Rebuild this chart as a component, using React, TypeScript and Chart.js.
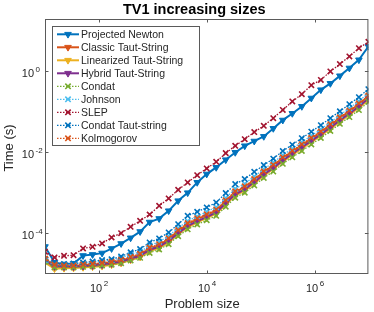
import React, { useEffect, useRef } from 'react';
import { Chart, registerables } from 'chart.js';

Chart.register(...registerables);

// Problem sizes (x)
const problemSizes = [
  10, 15, 22.5, 33.75, 50.63, 75.94, 113.9, 170.9, 256.3, 384.4, 576.6, 865.0,
  1297.5, 1946.2, 2919.3, 4378.9, 6568.4, 9852.6, 14778.9, 22168.4, 33252.6,
  49878.9, 74818.4, 112227.6, 168341.3, 252512.0, 378768.0, 568151.9, 852227.9,
  1278341.9, 1917512.8, 2876269.2, 4314403.8, 6471605.7, 9707408.6,
];

// Times (s)
const projectedNewton = [
  4.7e-5, 1.93e-5, 1.75e-5, 1.82e-5, 2.83e-5, 3.0e-5, 3.26e-5, 4.21e-5, 5.58e-5, 7.7e-5,
  1.1e-4, 1.88e-4, 2.3e-4, 3.57e-4, 6.29e-4, 9.9e-4, 1.78e-3, 2.85e-3, 4.16e-3, 6.4e-3,
  9.72e-3, 1.41e-2, 1.84e-2, 2.4e-2, 3.78e-2, 6.04e-2, 8.83e-2, 0.131, 0.21, 0.336,
  0.482, 0.741, 1.15, 1.83, 3.91,
];
const classicTautString = [
  2.32e-5, 1.61e-5, 1.56e-5, 1.56e-5, 1.66e-5, 1.7e-5, 1.8e-5, 1.91e-5, 2.13e-5, 2.53e-5,
  3.0e-5, 4.21e-5, 5.13e-5, 7.2e-5, 1.13e-4, 1.68e-4, 2.23e-4, 2.8e-4, 3.66e-4, 6.18e-4,
  1.03e-3, 1.36e-3, 2.06e-3, 3.19e-3, 4.61e-3, 7.04e-3, 1.02e-2, 1.47e-2, 2.12e-2, 3.06e-2,
  4.55e-2, 6.77e-2, 0.1, 0.149, 0.235,
];
const linearizedTautString = [
  1.9e-5, 1.35e-5, 1.38e-5, 1.4e-5, 1.45e-5, 1.5e-5, 1.55e-5, 1.68e-5, 1.85e-5, 2.2e-5,
  2.6e-5, 3.6e-5, 4.4e-5, 6.0e-5, 9.5e-5, 1.4e-4, 1.85e-4, 2.35e-4, 3.05e-4, 5.1e-4,
  8.5e-4, 1.12e-3, 1.7e-3, 2.6e-3, 3.8e-3, 5.8e-3, 8.4e-3, 1.2e-2, 1.75e-2, 2.5e-2,
  3.7e-2, 5.5e-2, 8.2e-2, 0.122, 0.19,
];
const hybridTautString = [
  2.1e-5, 1.52e-5, 1.5e-5, 1.5e-5, 1.55e-5, 1.6e-5, 1.68e-5, 1.8e-5, 2.0e-5, 2.35e-5,
  2.8e-5, 3.9e-5, 4.7e-5, 6.5e-5, 1.0e-4, 1.5e-4, 2.0e-4, 2.5e-4, 3.25e-4, 5.5e-4,
  9.1e-4, 1.2e-3, 1.82e-3, 2.8e-3, 4.05e-3, 6.2e-3, 9.0e-3, 1.3e-2, 1.87e-2, 2.7e-2,
  4.0e-2, 5.95e-2, 8.8e-2, 0.131, 0.205,
];
const condat = [
  2.0e-5, 1.45e-5, 1.45e-5, 1.45e-5, 1.5e-5, 1.55e-5, 1.62e-5, 1.7e-5, 1.85e-5, 2.15e-5,
  2.5e-5, 3.3e-5, 4.0e-5, 5.4e-5, 8.5e-5, 1.25e-4, 1.65e-4, 2.1e-4, 2.7e-4, 4.5e-4,
  7.5e-4, 1.0e-3, 1.5e-3, 2.3e-3, 3.3e-3, 5.1e-3, 7.4e-3, 1.06e-2, 1.53e-2, 2.2e-2,
  3.28e-2, 4.9e-2, 7.2e-2, 0.107, 0.17,
];
const johnson = [
  2.2e-5, 1.7e-5, 1.7e-5, 1.75e-5, 1.85e-5, 1.95e-5, 2.1e-5, 2.2e-5, 2.5e-5, 3.0e-5,
  3.5e-5, 5.0e-5, 6.2e-5, 8.6e-5, 1.35e-4, 2.0e-4, 2.6e-4, 3.4e-4, 4.4e-4, 7.4e-4,
  1.25e-3, 1.65e-3, 2.5e-3, 3.8e-3, 5.5e-3, 8.4e-3, 1.2e-2, 1.75e-2, 2.5e-2, 3.6e-2,
  5.4e-2, 8.0e-2, 0.119, 0.177, 0.28,
];
const slep = [
  3.5e-5, 2.56e-5, 2.8e-5, 2.9e-5, 4.26e-5, 4.66e-5, 5.65e-5, 7.9e-5, 1.01e-4, 1.44e-4,
  2.03e-4, 2.9e-4, 4.74e-4, 7.2e-4, 1.17e-3, 1.78e-3, 2.69e-3, 3.93e-3, 5.71e-3, 9.35e-3,
  1.41e-2, 2.06e-2, 3.07e-2, 4.38e-2, 6.77e-2, 0.108, 0.174, 0.263, 0.438, 0.59,
  0.95, 1.44, 2.22, 3.55, 5.07,
];
const condatTautString = [
  2.32e-5, 1.75e-5, 1.75e-5, 1.82e-5, 1.93e-5, 2.04e-5, 2.2e-5, 2.32e-5, 2.7e-5, 3.4e-5,
  4.09e-5, 5.97e-5, 7.5e-5, 1.05e-4, 1.68e-4, 2.69e-4, 3.38e-4, 4.33e-4, 5.74e-4, 9.72e-4,
  1.62e-3, 2.15e-3, 3.24e-3, 4.74e-3, 6.84e-3, 1.05e-2, 1.51e-2, 2.18e-2, 3.15e-2, 4.55e-2,
  6.77e-2, 0.1, 0.149, 0.222, 0.349,
];
const kolmogorov = [
  2.4e-5, 1.7e-5, 1.62e-5, 1.62e-5, 1.72e-5, 1.78e-5, 1.88e-5, 2.0e-5, 2.25e-5, 2.65e-5,
  3.15e-5, 4.5e-5, 5.4e-5, 7.6e-5, 1.2e-4, 1.78e-4, 2.35e-4, 2.95e-4, 3.85e-4, 6.5e-4,
  1.08e-3, 1.43e-3, 2.15e-3, 3.35e-3, 4.85e-3, 7.4e-3, 1.07e-2, 1.55e-2, 2.22e-2, 3.2e-2,
  4.8e-2, 7.1e-2, 0.105, 0.157, 0.245,
];

const seriesLabels = [
  'Projected Newton', 'Classic Taut-String', 'Linearized Taut-String', 'Hybrid Taut-String',
  'Condat', 'Johnson', 'SLEP', 'Condat Taut-string', 'Kolmogorov',
];
const seriesValues = [
  projectedNewton, classicTautString, linearizedTautString, hybridTautString,
  condat, johnson, slep, condatTautString, kolmogorov,
];
const seriesColors = [
  '#0072BD', '#D95319', '#EDB120', '#7E2F8E', '#77AC30', '#4DBEEE', '#A2142F', '#0072BD', '#D95319',
];
const seriesDotted = [false, false, false, false, true, true, true, true, true];

const xTickValues = [1e2, 1e4, 1e6];
const xTickExps = ['2', '4', '6'];
const yTickValues = [1, 1e-2, 1e-4];
const yTickExps = ['0', '-2', '-4'];

const FONT = '"Liberation Sans", Arial, Helvetica, sans-serif';
const TEXT = '#262626';
const AXIS = '#5a5a5a';

function drawMarker(ctx: CanvasRenderingContext2D, dotted: boolean, color: string, x: number, y: number) {
  ctx.save();
  ctx.setLineDash([]);
  if (!dotted) {
    const r = 3.8;
    ctx.beginPath();
    ctx.moveTo(x, y + r);
    ctx.lineTo(x - r * 0.866, y - r * 0.5);
    ctx.lineTo(x + r * 0.866, y - r * 0.5);
    ctx.closePath();
    ctx.fillStyle = color;
    ctx.fill();
    ctx.strokeStyle = color;
    ctx.lineWidth = 1;
    ctx.stroke();
  } else {
    const d = 2.7;
    ctx.beginPath();
    ctx.moveTo(x - d, y - d);
    ctx.lineTo(x + d, y + d);
    ctx.moveTo(x - d, y + d);
    ctx.lineTo(x + d, y - d);
    ctx.strokeStyle = color;
    ctx.lineWidth = 1.6;
    ctx.stroke();
  }
  ctx.restore();
}

const decorPlugin = {
  id: 'decor',
  afterDraw(chart: any) {
    const { ctx, chartArea: a, scales } = chart;
    const xs = scales.x;
    const ys = scales.y;
    ctx.save();

    // axes box
    ctx.strokeStyle = AXIS;
    ctx.lineWidth = 1;
    ctx.setLineDash([]);
    ctx.strokeRect(a.left + 0.5, a.top + 0.5, a.right - a.left - 1, a.bottom - a.top - 1);

    // inward tick marks
    ctx.beginPath();
    xTickValues.forEach((v) => {
      const px = Math.round(xs.getPixelForValue(v)) + 0.5;
      ctx.moveTo(px, a.bottom);
      ctx.lineTo(px, a.bottom - 3.5);
      ctx.moveTo(px, a.top);
      ctx.lineTo(px, a.top + 3.5);
    });
    yTickValues.forEach((v) => {
      const py = Math.round(ys.getPixelForValue(v)) + 0.5;
      ctx.moveTo(a.left, py);
      ctx.lineTo(a.left + 3.5, py);
      ctx.moveTo(a.right, py);
      ctx.lineTo(a.right - 3.5, py);
    });
    ctx.stroke();

    // tick labels
    ctx.fillStyle = TEXT;
    ctx.textBaseline = 'alphabetic';
    xTickValues.forEach((v, i) => {
      const px = xs.getPixelForValue(v);
      ctx.font = `11px ${FONT}`;
      const wb = ctx.measureText('10').width;
      ctx.font = `8px ${FONT}`;
      const we = ctx.measureText(xTickExps[i]).width;
      const start = px - (wb + 1.5 + we) / 2;
      ctx.textAlign = 'left';
      ctx.font = `11px ${FONT}`;
      ctx.fillText('10', start, a.bottom + 18);
      ctx.font = `8px ${FONT}`;
      ctx.fillText(xTickExps[i], start + wb + 1.5, a.bottom + 12);
    });
    yTickValues.forEach((v, i) => {
      const py = ys.getPixelForValue(v);
      ctx.font = `11px ${FONT}`;
      ctx.textAlign = 'right';
      ctx.fillText('10', a.left - 11, py + 6);
      ctx.font = `8px ${FONT}`;
      ctx.textAlign = 'left';
      ctx.fillText(yTickExps[i], a.left - 9.5, py + 1);
    });

    // title
    ctx.font = `bold 14.5px ${FONT}`;
    ctx.textAlign = 'center';
    ctx.fillStyle = '#000';
    ctx.fillText('TV1 increasing sizes', (a.left + a.right) / 2 - 12.5, 13.5);

    // axis titles
    ctx.fillStyle = TEXT;
    ctx.font = `13px ${FONT}`;
    ctx.fillText('Problem size', (a.left + a.right) / 2 - 4.5, a.bottom + 33.5);
    ctx.save();
    ctx.translate(13, (a.top + a.bottom) / 2 + 1.5);
    ctx.rotate(-Math.PI / 2);
    ctx.textAlign = 'center';
    ctx.fillText('Time (s)', 0, 0);
    ctx.restore();

    // legend
    const lx = a.left + 7.5;
    const ly = a.top + 7.5;
    const lw = 147;
    const lh = 119;
    ctx.fillStyle = '#fff';
    ctx.fillRect(lx, ly, lw, lh);
    ctx.strokeStyle = AXIS;
    ctx.lineWidth = 1;
    ctx.strokeRect(lx, ly, lw, lh);
    ctx.font = `10.5px ${FONT}`;
    ctx.textAlign = 'left';
    ctx.textBaseline = 'middle';
    seriesLabels.forEach((label, i) => {
      const cy = a.top + 15.3 + 13 * i;
      const color = seriesColors[i];
      const dotted = seriesDotted[i];
      ctx.save();
      ctx.beginPath();
      ctx.strokeStyle = color;
      ctx.lineWidth = dotted ? 1.3 : 2;
      ctx.setLineDash(dotted ? [1.5, 1.5] : []);
      ctx.moveTo(a.left + 12, cy);
      ctx.lineTo(a.left + 34, cy);
      ctx.stroke();
      ctx.restore();
      drawMarker(ctx, dotted, color, a.left + 23, cy);
      ctx.fillStyle = TEXT;
      ctx.fillText(label, a.left + 36, cy + 0.5);
    });

    ctx.restore();
  },
};

export default function App() {
  const canvasRef = useRef<HTMLCanvasElement>(null);

  useEffect(() => {
    document.body.style.margin = '0';
    const canvas = canvasRef.current;
    if (!canvas) return;
    const n = seriesLabels.length;
    const datasets = seriesValues.map((vals, i) => {
      const dotted = seriesDotted[i];
      const color = seriesColors[i];
      return {
        label: seriesLabels[i],
        data: problemSizes.map((x, j) => ({ x, y: vals[j] })),
        borderColor: color,
        backgroundColor: color,
        borderWidth: dotted ? 1.3 : 2,
        borderDash: dotted ? [1.5, 1.5] : [],
        pointStyle: dotted ? 'crossRot' : 'triangle',
        pointRotation: dotted ? 0 : 180,
        pointRadius: dotted ? 3.8 : 3.8,
        pointBorderWidth: dotted ? 1.6 : 1,
        pointBorderColor: color,
        pointBackgroundColor: color,
        fill: false,
        tension: 0,
        order: n - i,
      };
    });
    const chart = new Chart(canvas, {
      type: 'line',
      data: { datasets } as any,
      options: {
        responsive: false,
        animation: false,
        devicePixelRatio: 1,
        layout: { padding: { left: 45, right: 2, top: 19, bottom: 38 } },
        scales: {
          x: { type: 'logarithmic', display: false, min: 10, max: 9707408.6 },
          y: { type: 'logarithmic', display: false, min: 1e-5, max: 18.5 },
        },
        plugins: {
          legend: { display: false },
          title: { display: false },
          tooltip: { enabled: false },
        },
      } as any,
      plugins: [decorPlugin],
    });
    return () => chart.destroy();
  }, []);

  return (
    <div style={{ position: 'absolute', left: 0, top: 0, width: 374, height: 312, background: '#fff' }}>
      <canvas ref={canvasRef} width={374} height={312} style={{ display: 'block', width: 374, height: 312 }} />
    </div>
  );
}
